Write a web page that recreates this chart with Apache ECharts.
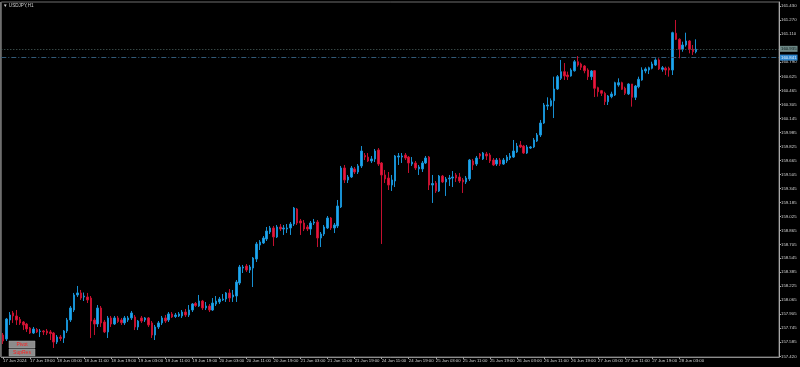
<!DOCTYPE html>
<html><head><meta charset="utf-8">
<script src="https://cdn.jsdelivr.net/npm/echarts@6/dist/echarts.min.js"></script>
<style>html,body{margin:0;padding:0;background:#000;}#c{width:800px;height:367px;}</style>
</head><body><div id="c"></div>
<script>
const symbolTitle = '▼ USDJPY,H1';
const tickLabels = ['17 Jun 2024','17 Jun 19:00','18 Jun 03:00','18 Jun 11:00','18 Jun 19:00','19 Jun 03:00','19 Jun 11:00','19 Jun 19:00','20 Jun 03:00','20 Jun 11:00','20 Jun 19:00','21 Jun 03:00','21 Jun 11:00','21 Jun 19:00','24 Jun 11:00','24 Jun 19:00','25 Jun 03:00','25 Jun 11:00','25 Jun 19:00','26 Jun 03:00','26 Jun 11:00','26 Jun 19:00','27 Jun 03:00','27 Jun 11:00','27 Jun 19:00','28 Jun 03:00'];
const priceTicks = [161.430,161.270,161.110,160.950,160.790,160.625,160.465,160.305,160.145,159.985,159.825,159.665,159.505,159.345,159.185,159.025,158.865,158.705,158.545,158.385,158.225,158.065,157.905,157.745,157.585,157.420];
const bidPrice = 160.935;
const levelPrice = 160.841;

const opens = [
157.668,157.623,157.840,157.920,157.886,157.846,157.817,157.794,157.748,157.691,
157.731,157.708,157.714,157.714,157.703,157.691,157.588,157.645,157.634,157.714,
157.840,157.954,158.126,158.149,158.103,158.103,158.091,157.840,157.794,157.977,
157.817,157.703,157.863,157.794,157.863,157.840,157.806,157.840,157.863,157.874,
157.760,157.863,157.840,157.863,157.806,157.668,157.760,157.806,157.863,157.840,
157.909,157.880,157.886,157.886,157.931,157.897,157.954,158.029,158.000,158.057,
157.977,158.000,157.954,158.023,158.046,158.069,158.080,158.149,158.103,158.114,
158.263,158.434,158.457,158.411,158.434,158.537,158.697,158.720,158.766,158.846,
158.892,158.789,158.903,158.880,158.880,158.892,158.937,159.109,158.972,158.949,
158.903,158.880,158.949,158.960,158.777,158.823,158.892,159.006,158.892,158.915,
159.132,159.578,159.441,159.475,159.567,159.532,159.601,159.721,159.703,159.658,
159.681,159.784,159.635,159.498,159.463,159.383,159.429,159.703,159.703,159.726,
159.703,159.623,159.635,159.567,159.567,159.635,159.703,159.383,159.406,159.315,
159.486,159.418,159.452,159.463,159.498,159.475,159.441,159.418,159.452,159.658,
159.623,159.738,159.681,159.738,159.726,159.669,159.623,159.669,159.623,159.658,
159.692,159.703,159.761,159.841,159.829,159.749,159.806,159.818,159.886,159.955,
160.092,160.286,160.290,160.347,160.481,160.603,160.679,160.641,160.630,160.690,
160.793,160.767,160.744,160.698,160.622,160.690,160.496,160.462,160.432,160.336,
160.393,160.412,160.527,160.553,160.489,160.424,160.538,160.386,160.507,160.584,
160.687,160.698,160.718,160.755,160.813,160.706,160.718,160.718,160.698,161.118,
161.049,160.935,160.984,161.030,160.935,160.907];

const closes = [
157.600,157.851,157.897,157.886,157.840,157.806,157.783,157.737,157.691,157.737,
157.703,157.714,157.703,157.691,157.685,157.588,157.645,157.628,157.714,157.840,
157.977,158.126,158.149,158.091,158.114,158.069,157.828,157.794,157.977,157.806,
157.703,157.863,157.794,157.863,157.823,157.809,157.863,157.863,157.920,157.760,
157.828,157.828,157.863,157.783,157.668,157.760,157.806,157.863,157.828,157.909,
157.874,157.897,157.909,157.931,157.897,157.954,158.023,158.006,158.057,157.977,
158.000,157.954,158.034,158.057,158.080,158.080,158.149,158.091,158.126,158.274,
158.446,158.446,158.411,158.446,158.549,158.709,158.732,158.777,158.857,158.892,
158.789,158.903,158.880,158.892,158.892,158.937,159.120,158.949,158.949,158.880,
158.880,158.949,158.960,158.777,158.823,158.903,159.006,158.892,158.926,159.143,
159.578,159.441,159.475,159.578,159.532,159.601,159.772,159.703,159.658,159.681,
159.772,159.623,159.498,159.452,159.383,159.441,159.715,159.715,159.715,159.692,
159.635,159.646,159.578,159.589,159.635,159.692,159.383,159.400,159.315,159.486,
159.418,159.452,159.463,159.475,159.463,159.429,159.418,159.463,159.669,159.612,
159.692,159.715,159.749,159.715,159.658,159.612,159.669,159.623,159.669,159.703,
159.715,159.772,159.829,159.818,159.749,159.818,159.818,159.898,159.955,160.092,
160.298,160.298,160.347,160.481,160.622,160.679,160.630,160.622,160.698,160.793,
160.755,160.729,160.690,160.622,160.687,160.489,160.450,160.432,160.336,160.401,
160.424,160.553,160.553,160.478,160.432,160.538,160.386,160.515,160.592,160.698,
160.710,160.724,160.767,160.813,160.710,160.724,160.698,160.698,161.125,161.049,
160.935,160.984,161.030,160.935,160.907,160.935];

const highs = [
157.691,157.863,157.931,157.943,157.954,157.874,157.828,157.806,157.760,157.760,
157.748,157.737,157.725,157.737,157.725,157.703,157.668,157.668,157.725,157.863,
158.000,158.149,158.229,158.183,158.154,158.149,158.114,157.863,158.011,158.000,
157.840,157.886,157.886,157.886,157.886,157.863,157.886,157.886,157.943,157.897,
157.840,157.886,157.874,157.874,157.828,157.783,157.828,157.886,157.897,157.931,
157.931,157.920,157.931,157.954,157.966,158.011,158.034,158.046,158.126,158.069,
158.046,158.023,158.091,158.114,158.103,158.137,158.160,158.194,158.183,158.297,
158.469,158.469,158.480,158.469,158.560,158.732,158.754,158.800,158.903,158.915,
158.915,158.926,158.937,158.926,158.937,158.960,159.132,159.120,158.995,158.983,
158.926,158.972,158.995,158.983,158.846,158.926,159.029,159.017,158.949,159.212,
159.601,159.612,159.498,159.601,159.589,159.623,159.829,159.749,159.749,159.715,
159.795,159.806,159.646,159.555,159.532,159.498,159.726,159.749,159.749,159.749,
159.715,159.703,159.658,159.612,159.658,159.715,159.715,159.498,159.429,159.498,
159.498,159.475,159.498,159.543,159.521,159.521,159.463,159.486,159.681,159.681,
159.715,159.749,159.761,159.761,159.749,159.692,159.692,159.692,159.692,159.726,
159.749,159.898,159.864,159.886,159.841,159.841,159.829,159.921,159.978,160.127,
160.321,160.386,160.374,160.622,160.641,160.813,160.778,160.679,160.718,160.813,
160.858,160.782,160.755,160.718,160.698,160.698,160.507,160.470,160.450,160.412,
160.450,160.564,160.603,160.564,160.507,160.546,160.538,160.527,160.622,160.729,
160.729,160.736,160.793,160.832,160.832,160.744,160.736,160.736,161.136,161.270,
161.061,161.022,161.125,161.041,160.984,161.049];

const lows = [
157.565,157.600,157.783,157.806,157.783,157.783,157.725,157.703,157.680,157.680,
157.691,157.645,157.668,157.668,157.611,157.520,157.565,157.600,157.577,157.691,
157.817,157.931,158.103,158.069,158.057,158.034,157.634,157.668,157.760,157.760,
157.691,157.634,157.760,157.783,157.806,157.783,157.783,157.817,157.840,157.725,
157.725,157.806,157.817,157.760,157.634,157.611,157.737,157.783,157.806,157.817,
157.863,157.863,157.874,157.863,157.874,157.874,157.931,157.989,157.989,157.954,
157.954,157.931,157.943,158.000,158.023,158.057,158.046,158.046,158.046,158.046,
158.240,158.377,158.389,158.377,158.217,158.503,158.640,158.709,158.743,158.823,
158.686,158.777,158.857,158.812,158.834,158.812,158.915,158.926,158.812,158.857,
158.857,158.812,158.926,158.674,158.674,158.800,158.880,158.869,158.834,158.892,
159.120,159.406,159.406,159.463,159.509,159.509,159.578,159.669,159.646,159.635,
159.646,159.601,158.709,159.406,159.326,159.315,159.360,159.612,159.635,159.669,
159.521,159.601,159.555,159.498,159.532,159.623,159.326,159.178,159.292,159.303,
159.406,159.258,159.372,159.360,159.418,159.406,159.292,159.395,159.429,159.555,
159.601,159.681,159.669,159.669,159.635,159.601,159.601,159.601,159.612,159.635,
159.669,159.692,159.749,159.806,159.738,159.738,159.795,159.806,159.875,159.932,
160.081,160.241,160.279,160.149,160.470,160.584,160.584,160.584,160.622,160.679,
160.736,160.698,160.661,160.584,160.584,160.389,160.393,160.401,160.298,160.298,
160.375,160.401,160.507,160.470,160.412,160.412,160.279,160.355,160.489,160.576,
160.661,160.652,160.706,160.744,160.698,160.679,160.641,160.622,160.641,161.041,
160.832,160.907,160.965,160.889,160.870,160.889];

const totalSlots = 230; // bar slots incl. empty space right of last bar
const categories = Array.from({length: totalSlots}, (_, i) => String(i));
const candles = opens.map((o, i) => [o, closes[i], lows[i], highs[i]]);
const FONT = '"Liberation Sans", Arial, sans-serif';
const isLabelIdx = (i) => i % 8 === 0 && (i / 8) < tickLabels.length;

const chart = echarts.init(document.getElementById('c'), null, {renderer: 'canvas'});
chart.setOption({
  backgroundColor: '#000000',
  animation: false,
  grid: {left: -0.8, right: 21, top: 2, bottom: 10, show: true, borderColor: '#6e6e6e', borderWidth: 1},
  xAxis: {
    type: 'category', data: categories, boundaryGap: true,
    axisLine: {show: true, lineStyle: {color: '#8c8c8c', width: 1}},
    axisTick: {show: true, alignWithLabel: true, interval: (i) => isLabelIdx(i), length: 2, lineStyle: {color: '#a0a0a0'}},
    axisLabel: {
      interval: (i) => isLabelIdx(i),
      formatter: (v) => { const i = Number(v); return isLabelIdx(i) ? tickLabels[i / 8] : ''; },
      align: 'left', color: '#d4d4d4', fontSize: 4.3, fontFamily: FONT, margin: 2
    },
    splitLine: {show: false}
  },
  yAxis: {
    type: 'value', position: 'right', min: 157.4167, max: 161.4757,
    axisLine: {show: true, lineStyle: {color: '#a8a8a8', width: 1}},
    axisTick: {show: true, customValues: priceTicks, length: 2, lineStyle: {color: '#a8a8a8'}},
    axisLabel: {customValues: priceTicks, formatter: (v) => v.toFixed(3), color: '#d4d4d4', fontSize: 4.3, fontFamily: FONT, margin: 2},
    splitLine: {show: false}
  },
  series: [{
    type: 'candlestick',
    data: candles,
    barWidth: 2,
    itemStyle: {color: '#1ea7f0', color0: '#e8173f', borderColor: '#1790d2', borderColor0: '#c4102f', borderWidth: 1},
    markLine: {
      symbol: 'none', silent: true, animation: false,
      data: [
        {yAxis: bidPrice, lineStyle: {color: '#4f6664', type: [1, 2], width: 1},
         label: {show: true, position: 'end', distance: 1, formatter: bidPrice.toFixed(3), backgroundColor: '#6d8886', color: '#0d1a1a', fontSize: 4.3, fontFamily: FONT, padding: [1, 1]}},
        {yAxis: levelPrice, lineStyle: {color: '#335a78', type: [5, 2, 1, 2], width: 1},
         label: {show: true, position: 'end', distance: 1, formatter: levelPrice.toFixed(3), backgroundColor: '#2f86cc', color: '#e6f2ff', fontSize: 4.3, fontFamily: FONT, padding: [1, 1]}}
      ]
    }
  }],
  graphic: [
    {type: 'line', shape: {x1: 0.5, y1: 2, x2: 0.5, y2: 357}, style: {stroke: '#6e6e6e', lineWidth: 1}, silent: true},
    {type: 'text', left: 3, top: 3, style: {text: symbolTitle, fill: '#cfcfcf', font: '4.6px ' + FONT}, silent: true},
    {type: 'rect', shape: {x: 9, y: 341, width: 26, height: 7}, style: {fill: '#8c8c8c', stroke: '#a8a8a8', lineWidth: 0.5}, silent: true},
    {type: 'text', x: 22, y: 344.5, style: {text: 'Pivot', fill: '#ff1e1e', font: '5px ' + FONT, textAlign: 'center', textVerticalAlign: 'middle'}, silent: true},
    {type: 'rect', shape: {x: 9, y: 349, width: 26, height: 7}, style: {fill: '#8c8c8c', stroke: '#a8a8a8', lineWidth: 0.5}, silent: true},
    {type: 'text', x: 22, y: 352.5, style: {text: 'SupRes', fill: '#ff1e1e', font: '5px ' + FONT, textAlign: 'center', textVerticalAlign: 'middle'}, silent: true}
  ]
});
</script>
</body></html>
